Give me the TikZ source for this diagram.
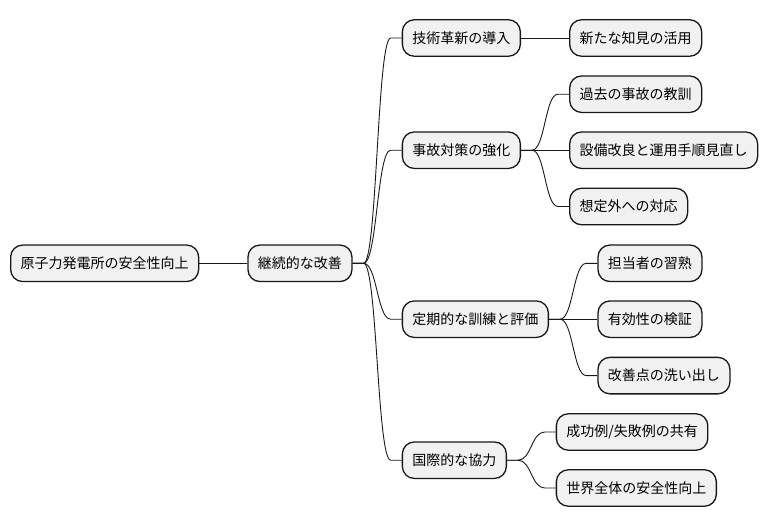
\documentclass[tikz,border=0pt]{standalone}
\usepackage{fontspec}
\setmainfont{Noto Sans CJK JP}
\usetikzlibrary{calc}
\definecolor{nodefill}{HTML}{F1F1F1}
\definecolor{nodeline}{HTML}{181818}
\begin{document}
\begin{tikzpicture}[x=1pt,y=-1pt,
  mnode/.style={draw=nodeline,fill=nodefill,line width=1.3pt,rounded corners=12pt,
    minimum height=36.5pt,inner xsep=10pt,inner ysep=0pt,anchor=west,
    font=\fontsize{14}{16}\selectfont},
  link/.style={draw=nodeline,line width=0.9pt},
  branch/.style={to path={let \p1=(\tikztostart), \p2=(\tikztotarget),
    \n1={0.5*\x1+0.5*\x2} in -- (\x1+11pt,\y1) .. controls (\n1,\y1) and (\n1,\y2) .. (\x2-11pt,\y2) -- (\x2,\y2)}}]
\useasboundingbox (0,0) rectangle (768,527);
\node[mnode] (root) at (10,263.3) {原子力発電所の安全性向上};
\node[mnode] (cont) at (247.3,263.3) {継続的な改善};
\node[mnode] (tech) at (401.7,38) {技術革新の導入};
\node[mnode] (know) at (569,38) {新たな知見の活用};
\node[mnode] (acc) at (401.7,150.2) {事故対策の強化};
\node[mnode] (past) at (569,94.2) {過去の事故の教訓};
\node[mnode] (equip) at (569,150.2) {設備改良と運用手順見直し};
\node[mnode] (unexp) at (569,206.5) {想定外への対応};
\node[mnode] (train) at (401.7,319.2) {定期的な訓練と評価};
\node[mnode] (skill) at (597.3,263.3) {担当者の習熟};
\node[mnode] (verif) at (597.3,319.2) {有効性の検証};
\node[mnode] (impr) at (597.3,375.6) {改善点の洗い出し};
\node[mnode] (intl) at (401.7,460.2) {国際的な協力};
\node[mnode] (share) at (555.7,432) {成功例/失敗例の共有};
\node[mnode] (world) at (555.7,488) {世界全体の安全性向上};
\draw[link] (root.east) -- (cont.west);
\draw[link] (cont.east) to[branch] (tech.west);
\draw[link] (cont.east) to[branch] (acc.west);
\draw[link] (cont.east) to[branch] (train.west);
\draw[link] (cont.east) to[branch] (intl.west);
\draw[link] (tech.east) -- (know.west);
\draw[link] (acc.east) to[branch] (past.west);
\draw[link] (acc.east) -- (equip.west);
\draw[link] (acc.east) to[branch] (unexp.west);
\draw[link] (train.east) to[branch] (skill.west);
\draw[link] (train.east) -- (verif.west);
\draw[link] (train.east) to[branch] (impr.west);
\draw[link] (intl.east) to[branch] (share.west);
\draw[link] (intl.east) to[branch] (world.west);
\end{tikzpicture}
\end{document}
